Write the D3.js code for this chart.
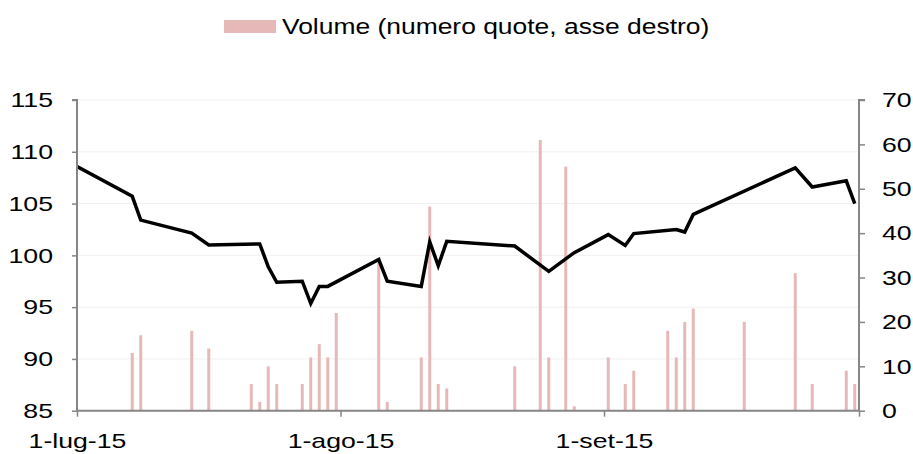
<!DOCTYPE html>
<html><head><meta charset="utf-8">
<script src="https://cdn.jsdelivr.net/npm/d3@7"></script>
<style>body{margin:0;background:#fff}svg{display:block;font-family:Arial,"Liberation Sans",sans-serif}</style>
</head><body><svg id="c" width="913" height="454"></svg>
<script>
// ---- data ----
const lineDates = ["2015-06-30","2015-07-07","2015-07-08","2015-07-14","2015-07-16","2015-07-22","2015-07-23","2015-07-24","2015-07-27","2015-07-28","2015-07-29","2015-07-30","2015-08-05","2015-08-06","2015-08-10","2015-08-11","2015-08-12","2015-08-13","2015-08-21","2015-08-25","2015-08-28","2015-09-01","2015-09-03","2015-09-04","2015-09-09","2015-09-10","2015-09-11","2015-09-23","2015-09-25","2015-09-29","2015-09-30"];
const lineValues = [108.8,105.7,103.4,102.15,101.0,101.1,98.9,97.4,97.5,95.35,97.0,97.0,99.6,97.5,97.0,101.3,99.0,101.35,100.9,98.45,100.26,102.0,100.96,102.1,102.5,102.25,103.95,108.45,106.6,107.2,105.0];
const barDates = ["2015-07-07","2015-07-08","2015-07-14","2015-07-16","2015-07-21","2015-07-22","2015-07-23","2015-07-24","2015-07-27","2015-07-28","2015-07-29","2015-07-30","2015-07-31","2015-08-05","2015-08-06","2015-08-10","2015-08-11","2015-08-12","2015-08-13","2015-08-21","2015-08-24","2015-08-25","2015-08-27","2015-08-28","2015-09-01","2015-09-03","2015-09-04","2015-09-08","2015-09-09","2015-09-10","2015-09-11","2015-09-17","2015-09-23","2015-09-25","2015-09-29","2015-09-30"];
const barValues = [13,17,18,14,6,2,10,6,6,12,15,12,22,34,2,12,46,6,5,10,61,12,55,1,12,6,9,18,12,20,23,20,31,6,9,6];
const leftTicks = [85,90,95,100,105,110,115];
const rightTicks = [0,10,20,30,40,50,60,70];
const xTickDates = ["2015-07-01","2015-08-01","2015-09-01","2015-10-01"];
const xTickLabels = ["1-lug-15","1-ago-15","1-set-15",""];
const legendLabel = "Volume (numero quote, asse destro)";

// ---- layout ----
const L = 77, R = 859, T = 100, B = 410.7;
const parse = d3.timeParse("%Y-%m-%d");
const x = d3.scaleTime().domain([parse("2015-07-01"), parse("2015-10-01")]).range([L, R]);
const mid = d => d3.timeHour.offset(parse(d), 12);
const yL = d3.scaleLinear().domain([85,115]).range([B, T]);
const yR = d3.scaleLinear().domain([0,70]).range([B, T]);
const svg = d3.select("#c");
const axisCol = "#868686";

// horizontally widened text, as in the reference
function stretch(sel, s) {
  sel.each(function() {
    const t = d3.select(this);
    const x0 = +t.attr("x") || 0;
    t.attr("x", x0 / s).attr("transform", `scale(${s},1)`);
  });
}

// gridlines
svg.append("g").selectAll("line").data(leftTicks).join("line")
  .attr("x1", L).attr("x2", R).attr("y1", d => yL(d)).attr("y2", d => yL(d))
  .attr("stroke", "#f0f0f0").attr("stroke-width", 1);

// clip
svg.append("clipPath").attr("id","clip").append("rect")
  .attr("x", L).attr("y", T - 10).attr("width", R - L).attr("height", B - T + 10);

// bars
const bw = 3;
svg.append("g").selectAll("rect").data(barDates.map((d,i)=>({d, v: barValues[i]}))).join("rect")
  .attr("x", d => x(mid(d.d)) - bw/2).attr("width", bw)
  .attr("y", d => yR(d.v)).attr("height", d => yR(0) - yR(d.v))
  .attr("fill", "#e6b9b8");

// line
const pts = lineDates.map((d,i)=>[x(mid(d)), yL(lineValues[i])]);
svg.append("path").attr("d", d3.line()(pts)).attr("fill","none")
  .attr("stroke","#000").attr("stroke-width",3.5).attr("stroke-linejoin","miter")
  .attr("clip-path","url(#clip)");

// left axis
const gl = svg.append("g").attr("transform", `translate(${L},0)`)
  .call(d3.axisLeft(yL).tickValues(leftTicks).tickSize(5).tickPadding(19).tickFormat(d3.format("d")));
// right axis
const gr = svg.append("g").attr("transform", `translate(${R},0)`)
  .call(d3.axisRight(yR).tickValues(rightTicks).tickSize(6).tickPadding(17).tickFormat(d3.format("d")));
// bottom axis
const gb = svg.append("g").attr("transform", `translate(0,${B})`)
  .call(d3.axisBottom(x).tickValues(xTickDates.map(parse)).tickSize(6).tickPadding(16)
    .tickFormat((d,i) => xTickLabels[i]));
[gl, gr, gb].forEach(g => {
  g.select(".domain").attr("stroke", axisCol).attr("stroke-width", 2);
  g.selectAll(".tick line").attr("stroke", axisCol).attr("stroke-width", 1.5);
  g.selectAll("text").attr("font-size", 21).attr("fill", "#000")
    .attr("font-family", "Arial, 'Liberation Sans', sans-serif");
  stretch(g.selectAll("text"), 1.27);
});
gl.select(".domain").attr("d", `M-5,${T}H0V${B}`);
gr.select(".domain").attr("d", `M6,${T}H0V${B}`);
gb.select(".domain").attr("d", `M${L},0H${R}`);

// legend
const lg = svg.append("g");
lg.append("rect").attr("x", 224).attr("y", 20).attr("width", 52).attr("height", 13).attr("fill", "#e6b9b8");
lg.append("text").attr("x", 282).attr("y", 34).attr("font-size", 22.5).attr("fill","#000").text(legendLabel)
  .call(stretch, 1.175);
</script>
</body></html>
